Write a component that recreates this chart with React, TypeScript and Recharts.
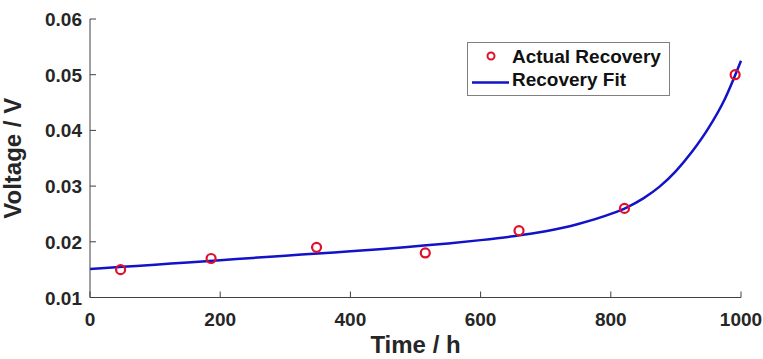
import {
  ComposedChart, Line, Scatter, XAxis, YAxis, Legend,
} from 'recharts';

const measuredTime = [47, 186, 348, 515, 659, 821, 991];
const measuredVoltage = [0.015, 0.017, 0.019, 0.018, 0.022, 0.026, 0.05];

const fitTime = [0, 50, 100, 150, 200, 250, 300, 350, 400, 450, 500, 550, 600, 650, 700, 750, 800, 825, 850, 875, 900, 925, 950, 975, 1000];
const fitVoltage = [0.0151, 0.0155, 0.0159, 0.0163, 0.0167, 0.0171, 0.0175, 0.0179, 0.0183, 0.0187, 0.0192, 0.0197, 0.0203, 0.0210, 0.0219, 0.0232, 0.0250, 0.0262, 0.0278, 0.0299, 0.0327, 0.0362, 0.0404, 0.0456, 0.0525];

const xTicks = [0, 200, 400, 600, 800, 1000];
const yTicks = [0.01, 0.02, 0.03, 0.04, 0.05, 0.06];

const seriesNames = ['Actual Recovery', 'Recovery Fit'];

const measured = measuredTime.map((t, i) => ({ t, v: measuredVoltage[i] }));
const fit = fitTime.map((t, i) => ({ t, v: fitVoltage[i] }));

const AXIS = '#404040';
const TEXT = '#262626';
const RED = '#e0102a';
const BLUE = '#1212c8';
const FONT = 'Arial, "Liberation Sans", Helvetica, sans-serif';

function BottomTick({ x, y, payload }: any) {
  return (
    <g>
      <line x1={x} y1={y} x2={x} y2={y - 6} stroke={AXIS} />
      <text x={x} y={y + 28} textAnchor="middle" fill={TEXT} fontSize={19} fontWeight="bold" fontFamily={FONT}>
        {payload.value}
      </text>
    </g>
  );
}

function TopTick({ x, y }: any) {
  return <line x1={x} y1={y} x2={x} y2={y + 6} stroke={AXIS} />;
}

function LeftTick({ x, y, payload }: any) {
  return (
    <g>
      <line x1={x} y1={y} x2={x + 6} y2={y} stroke={AXIS} />
      <text x={x - 8} y={y + 7} textAnchor="end" fill={TEXT} fontSize={19} fontWeight="bold" fontFamily={FONT}>
        {Number(payload.value).toFixed(2)}
      </text>
    </g>
  );
}

function RightTick({ x, y }: any) {
  return <line x1={x} y1={y} x2={x - 6} y2={y} stroke={AXIS} />;
}

function Ring({ cx, cy }: any) {
  return <circle cx={cx} cy={cy} r={4.5} fill="none" stroke={RED} strokeWidth={2.2} />;
}

function BoxLegend() {
  return (
    <div
      style={{
        width: 201, height: 52, background: '#fff', border: '1px solid #808080',
        fontFamily: FONT, fontWeight: 'bold', fontSize: 19, color: '#111', position: 'relative',
      }}
    >
      <svg width={44} height={52} style={{ position: 'absolute', left: 0, top: 0 }}>
        <circle cx={23} cy={13} r={3.5} fill="none" stroke={RED} strokeWidth={2} />
        <line x1={4} y1={39.5} x2={41} y2={39.5} stroke={BLUE} strokeWidth={2.5} />
      </svg>
      <div style={{ position: 'absolute', left: 44, top: 3, lineHeight: '22px', whiteSpace: 'nowrap' }}>{seriesNames[0]}</div>
      <div style={{ position: 'absolute', left: 44, top: 26, lineHeight: '22px', whiteSpace: 'nowrap' }}>{seriesNames[1]}</div>
    </div>
  );
}

export default function App() {
  return (
    <div style={{ position: 'absolute', left: 0, top: 0, width: 763, height: 359, background: '#fff' }}>
      <ComposedChart width={763} height={359} margin={{ top: 19, right: 22, bottom: 0, left: 0 }}>
        <XAxis
          xAxisId="bottom" dataKey="t" type="number" domain={[0, 1000]} ticks={xTicks}
          interval={0} height={61.5} tickSize={0} tickMargin={0} tickLine={false}
          axisLine={{ stroke: AXIS }} tick={<BottomTick />}
          label={{ value: 'Time / h', position: 'insideBottom', offset: 6, fill: TEXT, fontSize: 24, fontWeight: 'bold', fontFamily: FONT }}
        />
        <XAxis
          xAxisId="top" orientation="top" dataKey="t" type="number" domain={[0, 1000]} ticks={xTicks}
          interval={0} height={0} tickSize={0} tickMargin={0} tickLine={false}
          axisLine={{ stroke: AXIS }} tick={<TopTick />}
        />
        <YAxis
          yAxisId="left" dataKey="v" type="number" domain={[0.01, 0.06]} ticks={yTicks}
          interval={0} width={90} tickSize={0} tickMargin={0} tickLine={false}
          axisLine={{ stroke: AXIS }} tick={<LeftTick />}
          label={{ value: 'Voltage / V', angle: -90, position: 'insideLeft', offset: 12, fill: TEXT, fontSize: 24, fontWeight: 'bold', fontFamily: FONT, style: { textAnchor: 'middle' } }}
        />
        <YAxis
          yAxisId="right" orientation="right" dataKey="v" type="number" domain={[0.01, 0.06]} ticks={yTicks}
          interval={0} width={0} tickSize={0} tickMargin={0} tickLine={false}
          axisLine={{ stroke: AXIS }} tick={<RightTick />}
        />
        <Line
          xAxisId="bottom" yAxisId="left" data={fit} dataKey="v" name={seriesNames[1]}
          type="monotone" stroke={BLUE} strokeWidth={2.5} dot={false} isAnimationActive={false}
        />
        <Scatter
          xAxisId="bottom" yAxisId="left" data={measured} dataKey="v" name={seriesNames[0]}
          shape={<Ring />} isAnimationActive={false}
        />
        <Legend
          layout="vertical" align="center" verticalAlign="middle"
          content={<BoxLegend />}
          wrapperStyle={{ position: 'absolute', left: 467, top: 42, width: 203, height: 54, bottom: 'auto', right: 'auto' }}
        />
      </ComposedChart>
    </div>
  );
}
